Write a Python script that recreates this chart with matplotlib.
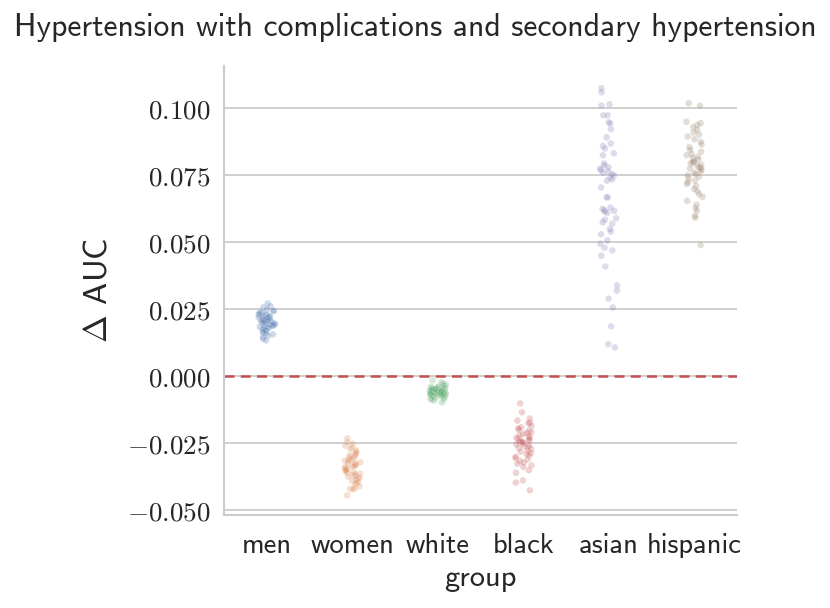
import numpy as np
import pandas as pd
import seaborn as sns
from matplotlib import pyplot as plt
from matplotlib.ticker import FuncFormatter

# delta AUC per group
groups = ["men", "women", "white", "black", "asian", "hispanic"]

men = [0.0272, 0.0262, 0.0258, 0.0250, 0.0246, 0.0243, 0.0240, 0.0237, 0.0235, 0.0232,
       0.0230, 0.0228, 0.0226, 0.0224, 0.0222, 0.0220, 0.0219, 0.0217, 0.0215, 0.0213,
       0.0212, 0.0210, 0.0208, 0.0207, 0.0205, 0.0203, 0.0202, 0.0200, 0.0198, 0.0197,
       0.0195, 0.0193, 0.0191, 0.0189, 0.0187, 0.0185, 0.0183, 0.0181, 0.0179, 0.0176,
       0.0173, 0.0170, 0.0167, 0.0163, 0.0160, 0.0157, 0.0152, 0.0147, 0.0140, 0.0134]

women = [-0.0231, -0.0245, -0.0252, -0.0258, -0.0265, -0.0270, -0.0276, -0.0281, -0.0286, -0.0290,
         -0.0294, -0.0298, -0.0301, -0.0305, -0.0308, -0.0311, -0.0314, -0.0317, -0.0320, -0.0322,
         -0.0325, -0.0328, -0.0331, -0.0333, -0.0336, -0.0339, -0.0342, -0.0344, -0.0347, -0.0350,
         -0.0353, -0.0356, -0.0359, -0.0362, -0.0365, -0.0368, -0.0371, -0.0374, -0.0377, -0.0381,
         -0.0385, -0.0389, -0.0393, -0.0397, -0.0402, -0.0410, -0.0418, -0.0420, -0.0420, -0.0444]

white = [-0.0015, -0.0022, -0.0027, -0.0031, -0.0034, -0.0037, -0.0039, -0.0041, -0.0043, -0.0045,
         -0.0046, -0.0048, -0.0049, -0.0050, -0.0051, -0.0052, -0.0053, -0.0054, -0.0055, -0.0055,
         -0.0056, -0.0057, -0.0058, -0.0059, -0.0060, -0.0061, -0.0062, -0.0063, -0.0064, -0.0065,
         -0.0066, -0.0067, -0.0068, -0.0070, -0.0071, -0.0073, -0.0075, -0.0077, -0.0079, -0.0082,
         -0.0085, -0.0090, -0.0097, -0.0044, -0.0058, -0.0062, -0.0053, -0.0047, -0.0069, -0.0087]

black = [-0.0101, -0.0134, -0.0157, -0.0165, -0.0172, -0.0175, -0.0184, -0.0190, -0.0194, -0.0198,
         -0.0203, -0.0207, -0.0211, -0.0215, -0.0219, -0.0222, -0.0226, -0.0229, -0.0232, -0.0235,
         -0.0238, -0.0241, -0.0244, -0.0247, -0.0250, -0.0253, -0.0256, -0.0259, -0.0263, -0.0267,
         -0.0271, -0.0276, -0.0281, -0.0286, -0.0290, -0.0295, -0.0300, -0.0305, -0.0310, -0.0316,
         -0.0321, -0.0326, -0.0332, -0.0338, -0.0350, -0.0360, -0.0388, -0.0396, -0.0425, -0.0244]

asian = [0.1075, 0.1060, 0.1015, 0.1010, 0.0974, 0.0974, 0.0948, 0.0944, 0.0922, 0.0892,
         0.0869, 0.0860, 0.0850, 0.0832, 0.0825, 0.0795, 0.0787, 0.0780, 0.0775, 0.0770,
         0.0765, 0.0760, 0.0755, 0.0750, 0.0742, 0.0735, 0.0730, 0.0705, 0.0668, 0.0668,
         0.0630, 0.0625, 0.0620, 0.0618, 0.0615, 0.0610, 0.0590, 0.0585, 0.0575, 0.0570,
         0.0550, 0.0540, 0.0530, 0.0507, 0.0495, 0.0480, 0.0470, 0.0450, 0.0410, 0.0340,
         0.0320, 0.0290, 0.0257, 0.0187, 0.0120, 0.0108]

hispanic = [0.1019, 0.1010, 0.0950, 0.0945, 0.0938, 0.0930, 0.0920, 0.0910, 0.0902, 0.0895,
            0.0885, 0.0875, 0.0865, 0.0855, 0.0845, 0.0838, 0.0830, 0.0825, 0.0820, 0.0815,
            0.0810, 0.0805, 0.0800, 0.0798, 0.0795, 0.0790, 0.0785, 0.0780, 0.0778, 0.0775,
            0.0770, 0.0765, 0.0760, 0.0755, 0.0750, 0.0745, 0.0738, 0.0730, 0.0725, 0.0718,
            0.0710, 0.0700, 0.0690, 0.0680, 0.0670, 0.0655, 0.0640, 0.0628, 0.0618, 0.0600,
            0.0592, 0.0490]

values = [men, women, white, black, asian, hispanic]

rows = []
for g, vals in zip(groups, values):
    for v in vals:
        rows.append((g, v))
df = pd.DataFrame(rows, columns=["group", "delta"])

sns.set_style("whitegrid")
plt.rcParams["font.family"] = ["cmss10", "DejaVu Sans"]
plt.rcParams["mathtext.fontset"] = "cm"
plt.rcParams["axes.unicode_minus"] = False

np.random.seed(3)
fig = plt.figure(figsize=(8.3, 6.08), dpi=100)
ax = fig.add_axes([0.270, 0.153, 0.618, 0.738])

sns.stripplot(data=df, x="group", y="delta", hue="group", palette="deep",
              order=groups, hue_order=groups, alpha=0.25, size=4.8,
              linewidth=0.4, edgecolor="white", legend=False, ax=ax)

ax.axhline(0, color="#C44E52", ls=(0, (4, 2.5)), lw=1.8, zorder=1)

ax.set_xlim(-0.5, 5.5)
ax.set_ylim(-0.0517, 0.1157)
ax.set_yticks([-0.05, -0.025, 0, 0.025, 0.05, 0.075, 0.1])
ax.yaxis.set_major_formatter(FuncFormatter(lambda v, p: "$%.3f$" % v))
ax.grid(axis="x", visible=False)
ax.grid(axis="y", color="#cccccc", lw=1.3)
for s in ["top", "right"]:
    ax.spines[s].set_visible(False)
for s in ["left", "bottom"]:
    ax.spines[s].set_color("#cccccc")
    ax.spines[s].set_linewidth(1.5)

ax.tick_params(axis="y", labelsize=19.5, pad=10, length=0)
ax.tick_params(axis="x", labelsize=20.5, pad=13, length=0)
ax.set_xlabel("group", fontsize=22, labelpad=5)
ax.set_ylabel(r"$\Delta$ AUC", fontsize=24, labelpad=10)

fig.text(0.5, 1 - 36 / 608, "Hypertension with complications and secondary hypertension",
         fontsize=22.8, ha="center", va="baseline")

fig.savefig("out.png", dpi=100)
